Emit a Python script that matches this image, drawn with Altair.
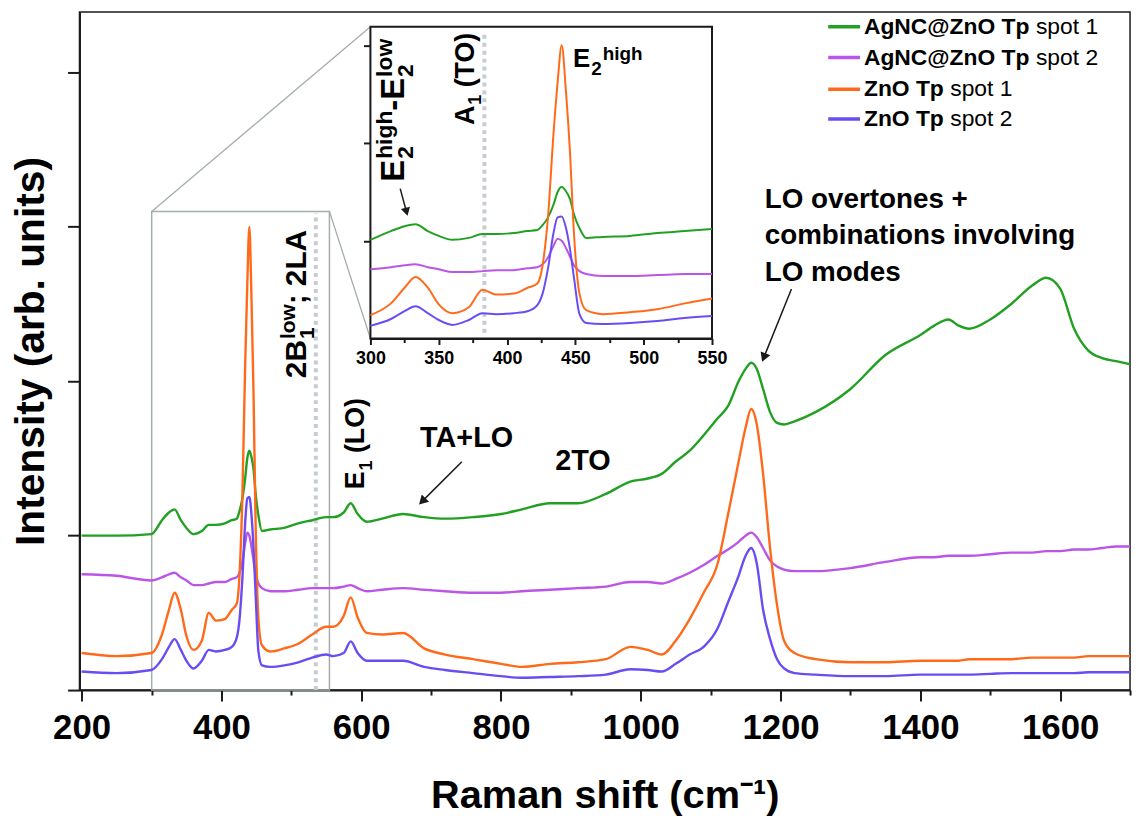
import math
import altair as alt
import pandas as pd

FONT = "Liberation Sans"

# ---------------- data ----------------
shift = [200, 250, 300, 315, 325, 333, 342, 350, 360, 372, 382, 392, 405, 415, 422,
         426, 430, 434, 437, 440, 443, 446, 449, 453, 458,
         470, 490, 510, 530, 550, 560, 575, 585, 595, 608, 630, 660, 690, 720, 760, 800,
         830, 870, 910, 950, 985, 1010, 1030,
         1050, 1070, 1090, 1110, 1125, 1140, 1150, 1158, 1166, 1175, 1185, 1195, 1205, 1220, 1250,
         1300, 1350, 1400, 1420, 1440, 1455, 1470, 1500, 1530, 1560, 1580, 1600, 1620, 1640,
         1660, 1680, 1700]

agnc_spot1 = [1.00, 1.00, 1.01, 1.10, 1.15, 1.17, 1.10, 1.05, 1.01, 1.03, 1.07, 1.07, 1.08, 1.10, 1.11,
              1.16, 1.24, 1.37, 1.50, 1.55, 1.51, 1.43, 1.27, 1.13, 1.03,
              1.04, 1.05, 1.08, 1.10, 1.12, 1.12, 1.15, 1.21, 1.14, 1.09, 1.11, 1.14, 1.12, 1.11, 1.12, 1.14,
              1.17, 1.21, 1.21, 1.27, 1.35, 1.37, 1.40,
              1.48, 1.55, 1.65, 1.76, 1.84, 2.00, 2.08, 2.12, 2.08, 1.95, 1.80, 1.73, 1.72, 1.74, 1.80,
              1.95, 2.17, 2.30, 2.36, 2.40, 2.36, 2.34, 2.40, 2.50, 2.62, 2.67, 2.60, 2.34, 2.20,
              2.15, 2.13, 2.11]

agnc_spot2 = [0.75, 0.74, 0.71, 0.73, 0.75, 0.76, 0.73, 0.71, 0.68, 0.68, 0.69, 0.70, 0.70, 0.72, 0.73,
              0.76, 0.83, 0.95, 1.02, 1.00, 0.93, 0.84, 0.75, 0.69, 0.66,
              0.64, 0.64, 0.65, 0.66, 0.66, 0.66, 0.67, 0.68, 0.66, 0.64, 0.65, 0.66, 0.65, 0.64, 0.63, 0.63,
              0.64, 0.65, 0.66, 0.67, 0.70, 0.70, 0.69,
              0.72, 0.76, 0.81, 0.87, 0.91, 0.96, 1.00, 1.02, 0.99, 0.92, 0.84, 0.80, 0.78, 0.77, 0.77,
              0.79, 0.83, 0.86, 0.86, 0.87, 0.87, 0.87, 0.88, 0.89, 0.89, 0.90, 0.90, 0.91, 0.91,
              0.92, 0.93, 0.93]

zno_spot1 = [0.24, 0.22, 0.24, 0.36, 0.52, 0.63, 0.52, 0.35, 0.26, 0.32, 0.50, 0.45, 0.46, 0.52, 0.56,
             0.75, 1.25, 2.10, 2.62, 3.00, 2.55, 1.92, 1.07, 0.46, 0.29,
             0.25, 0.27, 0.30, 0.36, 0.41, 0.41, 0.48, 0.60, 0.47, 0.37, 0.36, 0.37, 0.27, 0.23, 0.20, 0.17,
             0.15, 0.17, 0.18, 0.20, 0.28, 0.26, 0.23,
             0.32, 0.46, 0.63, 0.82, 1.14, 1.48, 1.70, 1.82, 1.72, 1.40, 0.92, 0.55, 0.32, 0.24, 0.20,
             0.18, 0.18, 0.19, 0.19, 0.19, 0.19, 0.20, 0.20, 0.20, 0.21, 0.21, 0.21, 0.21, 0.22,
             0.22, 0.22, 0.22]

zno_spot2 = [0.12, 0.11, 0.13, 0.20, 0.28, 0.33, 0.26, 0.19, 0.14, 0.19, 0.26, 0.25, 0.26, 0.28, 0.34,
             0.46, 0.72, 1.08, 1.24, 1.25, 1.14, 0.92, 0.62, 0.25, 0.16,
             0.15, 0.16, 0.18, 0.21, 0.23, 0.22, 0.24, 0.315, 0.24, 0.19, 0.19, 0.19, 0.15, 0.13, 0.11, 0.09,
             0.08, 0.085, 0.09, 0.10, 0.135, 0.13, 0.12,
             0.17, 0.23, 0.28, 0.40, 0.57, 0.74, 0.87, 0.92, 0.82, 0.52, 0.33, 0.20, 0.14, 0.11, 0.10,
             0.09, 0.09, 0.10, 0.10, 0.10, 0.10, 0.10, 0.105, 0.11, 0.11, 0.11, 0.11, 0.11, 0.115,
             0.115, 0.115, 0.115]

series_names = ["AgNC@ZnO Tp spot 1", "AgNC@ZnO Tp spot 2", "ZnO Tp spot 1", "ZnO Tp spot 2"]
legend_bold = ["AgNC@ZnO Tp", "AgNC@ZnO Tp", "ZnO Tp", "ZnO Tp"]
legend_plain = ["spot 1", "spot 2", "spot 1", "spot 2"]
colors = ["#22a022", "#bb55e8", "#ff6a1a", "#6a4cf2"]

main_x_ticks = list(range(200, 1701, 100))
main_y_ticks = [0, 1, 2, 3, 4]
inset_x_ticks = list(range(300, 551, 25))
inset_y_ticks = [1, 2, 3]

series_values = [agnc_spot1, agnc_spot2, zno_spot1, zno_spot2]
for v in series_values:
    assert len(v) == len(shift)

rows = []
for name, vals in zip(series_names, series_values):
    for x, y in zip(shift, vals):
        rows.append({"x": x, "y": y, "series": name})
df = pd.DataFrame(rows)

# ---------------- geometry ----------------
W, H = 1058, 683
X_DOM = [197, 1700]
Y_DOM = [0, 4.392]
PPX = W / (X_DOM[1] - X_DOM[0])
PPY = H / (Y_DOM[1] - Y_DOM[0])

IN_X_DOM = [300, 550]
IN_Y_DOM = [0, 3.19]
IN_L, IN_R, IN_T, IN_B = 293, 637, 15, 329
IPX = (IN_R - IN_L) / (IN_X_DOM[1] - IN_X_DOM[0])
IPY = (IN_B - IN_T) / (IN_Y_DOM[1] - IN_Y_DOM[0])

xs = alt.Scale(domain=X_DOM, nice=False, zero=False)
ys = alt.Scale(domain=Y_DOM, nice=False, zero=False)
xi = alt.Scale(domain=IN_X_DOM, range=[IN_L, IN_R], nice=False, zero=False)
yi = alt.Scale(domain=IN_Y_DOM, range=[IN_B, IN_T], nice=False, zero=False)
cs = alt.Scale(domain=series_names, range=colors)

INK = "#1a1a1a"
GREY = "#a3aeab"
DOT = "#c6ccd2"

# ---------------- text helpers ----------------
BOLD = {' ': 278, '(': 333, ')': 333, '+': 584, '-': 333, '.': 278, ';': 333, '@': 975,
        'A': 722, 'B': 722, 'C': 722, 'E': 667, 'L': 611, 'N': 722, 'O': 778, 'T': 611, 'Z': 611,
        'a': 556, 'b': 611, 'c': 556, 'd': 611, 'e': 556, 'g': 611, 'h': 611, 'i': 278, 'l': 278,
        'm': 889, 'n': 611, 'o': 611, 'p': 611, 'r': 389, 's': 556, 't': 333, 'u': 611, 'v': 556,
        'w': 778, 'y': 556}


def tw(s, size):
    return sum(BOLD.get(c, 556) for c in s) / 1000.0 * size


def run(x, y, text, size, sx, sy, dx=0.0, dy=0.0, angle=0, weight="bold",
        baseline="alphabetic", align="left"):
    d = pd.DataFrame({"x": [x], "y": [y], "t": [text]})
    kw = dict(align=align, baseline=baseline, fontSize=size, fontWeight=weight, font=FONT,
              dx=round(dx, 2), dy=round(dy, 2), color="black")
    if angle:
        kw["angle"] = angle
    return alt.Chart(d).mark_text(**kw).encode(
        x=alt.X("x:Q", scale=sx), y=alt.Y("y:Q", scale=sy), text="t:N")


def rich(x, y, tokens, size, small, sx, sy, angle=0):
    out = []
    adv = 0.0
    for tok in tokens:
        kind = tok[0]
        if kind == "t":
            s = tok[1]
            lead = len(s) - len(s.lstrip(" "))
            adv += tw(" " * lead, size)
            s = s.lstrip(" ")
            out.append(run(x, y, s, size, sx, sy, dx=adv, angle=angle))
            adv += tw(s, size)
        elif kind == "sub":
            out.append(run(x, y, tok[1], small, sx, sy, dx=adv + 1, dy=0.28 * size, angle=angle))
            adv += tw(tok[1], small) + 1
        elif kind == "sup":
            out.append(run(x, y, tok[1], small, sx, sy, dx=adv + 1, dy=-0.30 * size, angle=angle))
            adv += tw(tok[1], small) + 1
        elif kind == "subsup":
            out.append(run(x, y, tok[1], small, sx, sy, dx=adv + 1, dy=0.28 * size, angle=angle))
            out.append(run(x, y, tok[2], small, sx, sy, dx=adv + 1, dy=-0.36 * size, angle=angle))
            adv += max(tw(tok[1], small), tw(tok[2], small)) + 1
    return out


def arrow(x0, y0, x1, y1, ppx, ppy, sx, sy, size=110):
    dxp = (x1 - x0) * ppx
    dyp = -(y1 - y0) * ppy
    L = math.hypot(dxp, dyp)
    ux, uy = dxp / L, dyp / L
    ang = math.degrees(math.atan2(ux, -uy)) % 360
    h = math.sqrt(size) / 2 * math.sqrt(3) / 2
    cx = x1 - ux * h / ppx
    cy = y1 + uy * h / ppy
    ex = x1 - ux * 1.5 * h / ppx
    ey = y1 + uy * 1.5 * h / ppy
    shaft = alt.Chart(pd.DataFrame({"x": [x0], "y": [y0], "x2": [ex], "y2": [ey]})).mark_rule(
        color=INK, strokeWidth=1.5).encode(
        x=alt.X("x:Q", scale=sx), y=alt.Y("y:Q", scale=sy), x2="x2:Q", y2="y2:Q")
    head = alt.Chart(pd.DataFrame({"x": [cx], "y": [cy]})).mark_point(
        shape="triangle", filled=True, size=size, angle=round(ang, 1), color=INK, opacity=1).encode(
        x=alt.X("x:Q", scale=sx), y=alt.Y("y:Q", scale=sy))
    return [shaft, head]


# ---------------- main panel ----------------
main_x_axis = alt.Axis(
    values=main_x_ticks, format="d",
    labelExpr="datum.value % 200 === 0 ? datum.label : ''",
    tickSize={"condition": {"test": "datum.value % 200 === 0", "value": 11}, "value": 5},
    tickWidth=2, tickColor=INK, domainWidth=2, domainColor=INK, grid=False,
    labelFont=FONT, labelFontSize=35, labelFontWeight="bold", labelColor="black",
    labelPadding=10, labelFlush=False, labelOverlap=False,
    title="Raman shift (cm⁻¹)", titleFont=FONT, titleFontSize=40, titleFontWeight="bold",
    titleColor="black", titlePadding=30)

main_y_axis = alt.Axis(
    values=main_y_ticks, labels=False, tickSize=12, tickWidth=2, tickColor=INK,
    domainWidth=2, domainColor=INK, grid=False,
    title="Intensity (arb. units)", titleFont=FONT, titleFontSize=41, titleFontWeight="bold",
    titleColor="black", titlePadding=14)

lines_main = alt.Chart(df).mark_line(strokeWidth=2.4, interpolate="monotone").encode(
    x=alt.X("x:Q", scale=xs, axis=main_x_axis),
    y=alt.Y("y:Q", scale=ys, axis=main_y_axis),
    color=alt.Color("series:N", scale=cs, legend=None),
)

box = alt.Chart(pd.DataFrame({"x": [300.3], "x2": [554.6], "y": [0.0], "y2": [3.10]})).mark_rect(
    fillOpacity=0, stroke=GREY, strokeWidth=1.5).encode(
    x=alt.X("x:Q", scale=xs), x2="x2:Q", y=alt.Y("y:Q", scale=ys), y2="y2:Q")

dotted_main = alt.Chart(pd.DataFrame({"x": [535.1], "y": [0.0], "y2": [3.09]})).mark_rule(
    color=DOT, strokeWidth=4, strokeDash=[4, 4]).encode(
    x=alt.X("x:Q", scale=xs), y=alt.Y("y:Q", scale=ys), y2="y2:Q")

conn1 = alt.Chart(pd.DataFrame({"x": [300.3], "y": [3.10]})).mark_rule(
    color=GREY, strokeWidth=1.3).encode(
    x=alt.X("x:Q", scale=xs), y=alt.Y("y:Q", scale=ys),
    x2=alt.value(IN_L), y2=alt.value(IN_T))
conn2 = alt.Chart(pd.DataFrame({"x": [554.6], "y": [3.10]})).mark_rule(
    color=GREY, strokeWidth=1.3).encode(
    x=alt.X("x:Q", scale=xs), y=alt.Y("y:Q", scale=ys),
    x2=alt.value(IN_L), y2=alt.value(IN_B))

main_texts = []
main_texts += rich(604.7, 1.30, [("t", "E"), ("sub", "1"), ("t", " (LO)")], 27, 18, xs, ys, angle=270)
main_texts += rich(520.9, 2.02, [("t", "2B"), ("subsup", "1", "low"), ("t", "; 2LA")], 30, 21, xs, ys, angle=270)
main_texts += [run(684.3, 1.576, "TA+LO", 29, xs, ys)]
main_texts += [run(877.5, 1.428, "2TO", 29, xs, ys)]
for yy, s in zip([3.119, 2.887, 2.649], ["LO overtones +", "combinations involving", "LO modes"]):
    main_texts.append(run(1177.3, yy, s, 28, xs, ys))
main_texts += arrow(744.0, 1.479, 684.3, 1.209, PPX, PPY, xs, ys)
main_texts += arrow(1215.6, 2.598, 1174.4, 2.135, PPX, PPY, xs, ys)

# legend
leg_y = [4.296, 4.096, 3.891, 3.698]
leg_df = pd.DataFrame({"x": [1268.2] * 4, "x2": [1313.7] * 4, "y": leg_y, "series": series_names})
leg_sw = alt.Chart(leg_df).mark_rule(strokeWidth=3.5).encode(
    x=alt.X("x:Q", scale=xs), x2="x2:Q", y=alt.Y("y:Q", scale=ys),
    color=alt.Color("series:N", scale=cs, legend=None))
leg_texts = []
for yy, b, p in zip(leg_y, legend_bold, legend_plain):
    leg_texts.append(run(1319.3, yy, b, 23, xs, ys, baseline="middle"))
    leg_texts.append(run(1319.3, yy, p, 23, xs, ys, dx=tw(b + " ", 23), weight="normal",
                         baseline="middle"))

main_group = alt.layer(box, dotted_main, conn1, conn2, lines_main, *main_texts, leg_sw, *leg_texts)

# ---------------- inset ----------------
inset_x_axis = alt.Axis(
    values=inset_x_ticks, format="d", orient="bottom", offset=-(H - IN_B),
    labelExpr="datum.value % 50 === 0 ? datum.label : ''",
    tickSize={"condition": {"test": "datum.value % 50 === 0", "value": 6}, "value": 4},
    tickWidth=2, tickColor=INK, domainWidth=2, domainColor=INK, grid=False,
    labelFont=FONT, labelFontSize=18, labelFontWeight="bold", labelColor="black",
    labelPadding=5, labelFlush=False, labelOverlap=False, title=None)
inset_y_axis = alt.Axis(
    values=inset_y_ticks, orient="left", offset=-IN_L, labels=False, tickSize=7,
    tickWidth=2, tickColor=INK, domainWidth=2, domainColor=INK, grid=False, title=None)

inset_bg = alt.Chart(pd.DataFrame({"x": [300], "x2": [550], "y": [0.0], "y2": [3.19]})).mark_rect(
    fill="white", stroke=INK, strokeWidth=2).encode(
    x=alt.X("x:Q", scale=xi), x2="x2:Q", y=alt.Y("y:Q", scale=yi), y2="y2:Q")

dotted_in = alt.Chart(pd.DataFrame({"x": [383.4], "y": [0.06], "y2": [3.15]})).mark_rule(
    color=DOT, strokeWidth=4, strokeDash=[4, 4]).encode(
    x=alt.X("x:Q", scale=xi), y=alt.Y("y:Q", scale=yi), y2="y2:Q")

lines_in = alt.Chart(df).transform_filter(
    (alt.datum.x >= 300) & (alt.datum.x <= 550)).mark_line(
    strokeWidth=2.0, interpolate="monotone").encode(
    x=alt.X("x:Q", scale=xi, axis=inset_x_axis),
    y=alt.Y("y:Q", scale=yi, axis=inset_y_axis),
    color=alt.Color("series:N", scale=cs, legend=None))

in_texts = []
in_texts += rich(375.6, 2.184, [("t", "A"), ("sub", "1"), ("t", " (TO)")], 27, 18, xi, yi, angle=270)
in_texts += rich(324.7, 1.605, [("t", "E"), ("subsup", "2", "high"), ("t", "-E"), ("subsup", "2", "low")],
                 33, 23, xi, yi, angle=270)
in_texts += rich(448.3, 2.774, [("t", "E"), ("sub", "2"), ("sup", "high")], 26, 19, xi, yi)
in_texts += arrow(321.8, 1.534, 326.9, 1.270, IPX, IPY, xi, yi, size=90)

inset_group = alt.layer(inset_bg, dotted_in, lines_in, *in_texts)

chart = alt.layer(main_group, inset_group).resolve_scale(
    x="independent", y="independent").resolve_axis(
    x="independent", y="independent").properties(
    width=W, height=H,
    autosize=alt.AutoSizeParams(type="none"),
    padding={"left": 72, "top": 1, "right": 5, "bottom": 137},
    background="white",
).configure_view(stroke=INK, strokeWidth=1.5)

chart.save("out.html", embed_options={"renderer": "svg", "actions": False})
